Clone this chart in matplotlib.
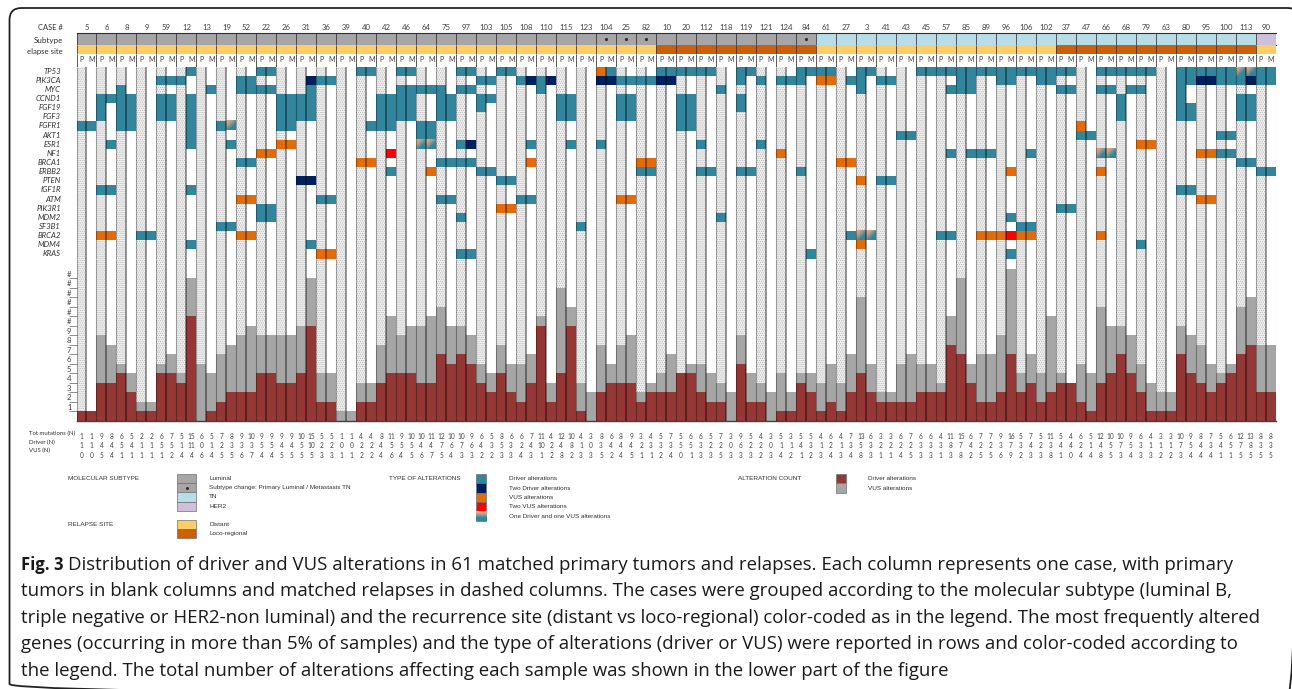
import matplotlib
matplotlib.use('Agg')
import matplotlib.pyplot as plt
from matplotlib.colors import LinearSegmentedColormap
from matplotlib.patches import FancyBboxPatch, Rectangle
import numpy as np

W, H = 1292, 689

# Casos, na ordem da figura (cada caso tem duas colunas: P e M)
cases = [5, 6, 8, 9, 59, 12, 13, 19, 52, 22, 26, 31, 36, 39, 40, 42, 46, 64, 75, 97,
         103, 105, 108, 110, 115, 123, 104, 25, 82, 10, 20, 112, 118, 119, 121, 124, 84,
         61, 27, 3, 41, 43, 45, 57, 85, 89, 96, 106, 102, 37, 47, 66, 68, 79, 63, 80, 95,
         100, 113, 90]
subtype = ['Luminal'] * 37 + ['TN'] * 22 + ['HER2']
subtype_change = [104, 25, 82, 84]
site = ['Distant'] * 29 + ['Loco'] * 8 + ['Distant'] * 12 + ['Loco'] * 10 + ['Distant']

genes = ['TP53', 'PIK3CA', 'MYC', 'CCND1', 'FGF19', 'FGF3', 'FGFR1', 'AKT1', 'ESR1', 'NF1',
         'BRCA1', 'ERBB2', 'PTEN', 'IGF1R', 'ATM', 'PIK3R1', 'MDM2', 'SF3B1', 'BRCA2', 'MDM4',
         'KRAS']

# Colunas com cada tipo de alteração, por gene
driver = {
    'TP53': [11, 18, 19, 28, 29, 32, 33, 38, 39, 42, 43, 53, 58, 59, 60, 61, 62, 63, 66, 67,
             72, 73, 74, 75, 78, 79, 84, 85, 86, 87, 88, 89, 90, 91, 92, 93, 94, 95, 96, 97,
             98, 99, 102, 103, 104, 105, 106, 107, 110, 111, 112, 113, 114, 115, 118, 119],
    'PIK3CA': [8, 9, 10, 16, 17, 24, 25, 40, 41, 44, 46, 54, 55, 56, 57, 66, 68, 70, 71, 72,
               77, 78, 80, 81, 88, 89, 92, 93, 96, 97, 110, 111, 114, 115, 116, 118, 119],
    'MYC': [4, 13, 16, 17, 18, 19, 23, 32, 33, 34, 35, 36, 38, 39, 46, 64, 78, 87, 88, 89,
            98, 99, 102, 103, 105, 106, 110],
    'CCND1': [2, 3, 4, 5, 8, 9, 11, 20, 21, 22, 23, 30, 31, 32, 33, 36, 37, 40, 41, 48, 49,
              54, 55, 60, 61, 66, 104, 110, 116, 117],
    'FGF19': [2, 4, 5, 8, 9, 11, 20, 21, 22, 23, 30, 31, 32, 33, 36, 37, 40, 48, 49, 54, 55,
              60, 61, 66, 104, 110, 111, 116, 117],
    'FGF3': [2, 4, 5, 8, 9, 11, 20, 21, 22, 23, 30, 31, 32, 33, 36, 37, 48, 49, 54, 55, 60,
             61, 104, 110, 111, 116, 117],
    'FGFR1': [0, 1, 4, 5, 11, 14, 20, 21, 29, 30, 31, 34, 35, 60, 61],
    'AKT1': [11, 34, 35, 82, 83, 100, 101, 114, 115],
    'ESR1': [3, 11, 15, 38, 45, 49, 52, 62, 68],
    'NF1': [87, 89, 90, 91, 95, 114, 115],
    'BRCA1': [16, 17, 36, 37, 38, 39, 116, 117],
    'ERBB2': [31, 40, 41, 56, 57, 62, 63, 66, 67, 72, 118, 119],
    'PTEN': [42, 43, 80, 81],
    'IGF1R': [2, 3, 11, 110, 111],
    'ATM': [24, 25, 36, 37, 44, 45],
    'PIK3R1': [18, 19, 98, 99],
    'MDM2': [18, 19, 38, 64, 93],
    'SF3B1': [14, 15, 50, 94, 95],
    'BRCA2': [6, 7, 77, 86, 87],
    'MDM4': [11, 23, 106],
    'KRAS': [38, 39, 73, 93],
}
two_driver = {'PIK3CA': [23, 45, 47, 52, 53, 58, 59, 112, 113, 117], 'ESR1': [39], 'PTEN': [22, 23]}
vus = {
    'TP53': [52],
    'PIK3CA': [74, 75],
    'FGFR1': [100],
    'ESR1': [20, 21, 106, 107],
    'NF1': [18, 19, 70, 112, 113],
    'BRCA1': [28, 29, 45, 56, 57, 76, 77],
    'ERBB2': [35, 93, 102],
    'PTEN': [78],
    'ATM': [16, 17, 54, 55, 112, 113],
    'PIK3R1': [42, 43],
    'BRCA2': [2, 3, 16, 17, 90, 91, 92, 94, 95, 102],
    'MDM4': [78],
    'KRAS': [24, 25],
}
two_vus = {'NF1': [31], 'BRCA2': [93]}
mixed = {'TP53': [116, 117], 'FGFR1': [15], 'ESR1': [34, 35], 'NF1': [102, 103], 'BRCA2': [78, 79]}

# Altura das barras, coluna a coluna
bar_driver = [1, 1, 4, 4, 5, 3, 1, 1, 5, 5, 4, 11, 0, 1, 2, 3, 3, 3, 5, 5, 4, 4, 5, 10, 2, 2, 0, 0,
              2, 2, 4, 5, 5, 5, 4, 4, 7, 6, 7, 6, 4, 3, 5, 3, 2, 4, 10, 2, 5, 10, 1, 0, 3, 4, 4, 4,
              2, 3, 3, 3, 5, 5, 3, 2, 2, 0, 6, 2, 2, 0, 1, 1, 4, 3, 1, 2, 1, 3, 5, 3, 2, 2, 2, 2, 3,
              3, 3, 8, 7, 4, 2, 2, 3, 7, 3, 4, 2, 3, 4, 4, 2, 1, 4, 5, 7, 5, 3, 1, 1, 1, 7, 5, 4, 3,
              4, 5, 7, 8, 3, 3]
bar_total = [1, 1, 9, 8, 6, 5, 2, 2, 6, 7, 5, 15, 6, 5, 7, 8, 9, 10, 9, 9, 9, 9, 10, 15, 5, 5, 1, 1,
             4, 4, 8, 11, 9, 10, 10, 11, 12, 10, 10, 9, 6, 5, 8, 6, 6, 7, 11, 4, 14, 12, 4, 3, 8, 6,
             8, 9, 3, 4, 5, 7, 5, 6, 6, 5, 4, 3, 9, 5, 4, 3, 5, 3, 5, 5, 4, 6, 4, 7, 13, 6, 3, 3, 6,
             7, 6, 6, 4, 11, 15, 6, 7, 7, 9, 16, 5, 7, 5, 11, 5, 4, 6, 5, 12, 10, 10, 9, 6, 4, 3, 3,
             10, 9, 8, 6, 5, 6, 12, 13, 8, 8]

# Números impressos por baixo das barras
tot_labels = [1, 1, 9, 8, 6, 5, 2, 2, 6, 7, 5, 15, 6, 5, 7, 8, 9, 10, 9, 9, 9, 9, 10, 15, 5, 5, 1, 1,
              4, 4, 8, 11, 9, 10, 10, 11, 12, 10, 10, 9, 6, 5, 8, 6, 6, 7, 11, 4, 12, 10, 4, 3, 8, 6,
              8, 9, 3, 4, 5, 7, 5, 6, 6, 5, 7, 3, 9, 5, 4, 3, 5, 3, 5, 5, 4, 6, 4, 7, 13, 6, 3, 3, 6,
              7, 6, 6, 4, 11, 15, 6, 7, 7, 9, 16, 5, 7, 5, 11, 5, 4, 6, 5, 12, 10, 10, 9, 6, 4, 3, 3,
              10, 9, 8, 7, 5, 6, 12, 13, 8, 8]
driver_labels = [1, 1, 4, 4, 5, 4, 1, 1, 5, 5, 1, 11, 0, 1, 2, 3, 3, 3, 5, 5, 4, 4, 5, 10, 2, 2, 0, 0,
                 2, 2, 4, 5, 5, 5, 4, 4, 7, 6, 7, 6, 4, 3, 5, 3, 2, 4, 10, 2, 4, 8, 1, 0, 3, 4, 4, 4,
                 2, 3, 3, 3, 5, 5, 3, 2, 2, 0, 6, 2, 2, 0, 1, 1, 4, 3, 1, 2, 1, 3, 5, 3, 2, 2, 2, 2, 3,
                 3, 3, 8, 7, 4, 2, 2, 3, 7, 3, 4, 2, 3, 4, 4, 2, 1, 4, 5, 7, 5, 3, 1, 1, 1, 7, 5, 4, 3,
                 4, 5, 7, 8, 3, 3]
vus_labels = [0, 0, 5, 4, 1, 1, 1, 1, 1, 2, 4, 4, 6, 4, 5, 5, 6, 7, 4, 4, 5, 5, 5, 5, 3, 3, 1, 1,
              2, 2, 4, 6, 4, 5, 6, 7, 5, 4, 3, 3, 2, 2, 3, 3, 4, 3, 1, 2, 8, 2, 3, 3, 5, 2, 4, 5,
              1, 1, 2, 4, 0, 1, 3, 3, 5, 3, 3, 3, 2, 3, 4, 2, 1, 2, 3, 4, 3, 4, 8, 3, 1, 1, 4, 5, 3,
              3, 1, 3, 8, 2, 5, 5, 6, 9, 2, 3, 3, 8, 1, 0, 4, 4, 8, 5, 3, 4, 3, 3, 2, 2, 3, 4, 4, 4,
              1, 1, 5, 5, 5, 5]

caption_lines = [
    'Distribution of driver and VUS alterations in 61 matched primary tumors and relapses. Each column represents one case, with primary',
    'tumors in blank columns and matched relapses in dashed columns. The cases were grouped according to the molecular subtype (luminal B,',
    'triple negative or HER2-non luminal) and the recurrence site (distant vs loco-regional) color-coded as in the legend. The most frequently altered',
    'genes (occurring in more than 5% of samples) and the type of alterations (driver or VUS) were reported in rows and color-coded according to',
    'the legend. The total number of alterations affecting each sample was shown in the lower part of the figure',
]

# Cores
teal = '#31859C'
navy = '#002060'
orange = '#E36C09'
red = '#FF0000'
dark_red = '#953735'
grey = '#A6A6A6'
subtype_colors = {'Luminal': grey, 'TN': '#B7DEE8', 'HER2': '#CCC0DA'}
site_colors = {'Distant': '#FFCC66', 'Loco': '#CC6008'}
mixed_cmap = LinearSegmentedColormap.from_list('mixed', ['#F0B080', '#A8A090', teal, teal])

plt.rcParams['font.family'] = ['Lato', 'DejaVu Sans']
plt.rcParams['hatch.linewidth'] = 0.5

fig = plt.figure(figsize=(W / 100, H / 100), dpi=100, facecolor='white')


def px_axes(left, top, right, bottom):
    ax = fig.add_axes([left / W, 1 - bottom / H, (right - left) / W, (bottom - top) / H])
    ax.set_xlim(0, 120)
    ax.set_xticks([])
    ax.set_yticks([])
    for s in ax.spines.values():
        s.set_visible(False)
    return ax


# Eixo de fundo em píxeis para moldura, textos e legenda
bg = fig.add_axes([0, 0, 1, 1], zorder=-1)
bg.set_xlim(0, W)
bg.set_ylim(H, 0)
bg.axis('off')
bg.add_patch(FancyBboxPatch((9.5, 8), 1290, 688, boxstyle='round,pad=0,rounding_size=12',
                            fc='none', ec='#222222', lw=1.3))

LEFT, RIGHT = 76.5, 1275.5
ax_sub = px_axes(LEFT, 33, RIGHT, 44.5)
ax_site = px_axes(LEFT, 44.5, RIGHT, 53.5)
ax_pm = px_axes(LEFT, 53.5, RIGHT, 66.5)
ax_gene = px_axes(LEFT, 66.5, RIGHT, 258.5)
ax_bar = px_axes(LEFT, 258.5, RIGHT, 420.7)
ax_num = px_axes(LEFT, 430, RIGHT, 458)

case_pos = np.arange(len(cases)) * 2
ax_sub.bar(case_pos, 1, width=2, align='edge', color=[subtype_colors[s] for s in subtype])
ax_site.bar(case_pos, 1, width=2, align='edge', color=[site_colors[s] for s in site])
ax_sub.set_ylim(0, 1)
ax_site.set_ylim(0, 1)

for pos, case in zip(case_pos, cases):
    bg.text(LEFT + (pos + 1) * 10, 28, str(case), ha='center', va='center', fontsize=5.6, color='#404040')
    ax_pm.text(pos + 0.5, 0.5, 'P', ha='center', va='center', fontsize=5, color='#404040')
    ax_pm.text(pos + 1.5, 0.5, 'M', ha='center', va='center', fontsize=5, color='#404040')
    if case in subtype_change:
        ax_sub.plot(pos + 1, 0.5, marker='o', ms=1.3, color='#303030')
ax_pm.set_ylim(0, 1)

# Colunas P pontilhadas, atrás de tudo
for ax, top in [(ax_gene, len(genes)), (ax_bar, 17.1)]:
    ax.bar(case_pos, top, width=1, align='edge', color='#F0F0F0', edgecolor='#B4B4B4', hatch='........', lw=0, zorder=0)

# Células dos genes
ax_gene.set_ylim(len(genes), 0)
for calls, color in [(driver, teal), (two_driver, navy), (vus, orange), (two_vus, red)]:
    for gene, cols in calls.items():
        row = genes.index(gene)
        ax_gene.bar(cols, 1, bottom=row, width=1, align='edge', color=color, zorder=2)
ramp = np.add.outer(np.linspace(0, 1, 24), np.linspace(0, 1, 24)) / 2
for gene, cols in mixed.items():
    row = genes.index(gene)
    for c in cols:
        ax_gene.imshow(ramp, cmap=mixed_cmap, extent=(c, c + 1, row + 1, row), aspect='auto', zorder=2)
ax_gene.set_xlim(0, 120)
ax_gene.set_ylim(len(genes), 0)

# Barras de contagem
columns = np.arange(120)
bar_driver = np.array(bar_driver)
bar_total = np.array(bar_total)
ax_bar.bar(columns, bar_driver, width=1, align='edge', color=dark_red, zorder=2)
ax_bar.bar(columns, bar_total - bar_driver, bottom=bar_driver, width=1, align='edge', color=grey, zorder=2)
ax_bar.set_ylim(0, 17.08)
ax_bar.set_yticks(range(1, 16))
ax_bar.set_yticklabels([])
ax_bar.tick_params(axis='y', length=5.5, width=0.5, color='#606060')
ax_bar.spines['bottom'].set_visible(True)
ax_bar.spines['bottom'].set_color('#404040')
ax_bar.spines['bottom'].set_linewidth(1)
for n in range(1, 16):
    ax_bar.text(-0.5, n + 0.4, str(n) if n < 10 else '#', ha='right', va='center', fontsize=5.6, color='#404040')

# Linhas verticais
for ax in (ax_gene, ax_bar):
    ax.vlines(case_pos + 1, 0, 1, transform=ax.get_xaxis_transform(), color='black', alpha=0.5, lw=1.1, zorder=3)
    ax.vlines(np.append(case_pos, 120), 0, 1, transform=ax.get_xaxis_transform(), color='black', alpha=0.32, lw=0.8, zorder=3)
for ax in (ax_sub, ax_site, ax_pm):
    ax.vlines(np.append(case_pos, 120), 0, 1, transform=ax.get_xaxis_transform(), color='#303030', alpha=0.8, lw=0.7, zorder=3)
ax_sub.spines['top'].set_visible(True)
ax_sub.spines['top'].set_color('#303030')
ax_sub.spines['top'].set_linewidth(0.8)
ax_sub.spines['bottom'].set_visible(True)
ax_sub.spines['bottom'].set_color('#303030')
ax_sub.spines['bottom'].set_linewidth(0.7)

# Rótulos da esquerda
bg.text(63, 28, 'CASE #', ha='right', va='center', fontsize=5.4, color='#303030')
bg.text(63, 40.5, 'Subtype', ha='right', va='center', fontsize=5.8, color='#303030')
bg.text(63, 51.5, 'elapse site', ha='right', va='center', fontsize=5.6, color='#303030')
for i, gene in enumerate(genes):
    ax_gene.text(-1.55, i + 0.5, gene, ha='right', va='center', fontsize=5.6, style='italic', color='#303030')

# Contagens por baixo
ax_num.set_ylim(3, 0)
for row, (name, values, y) in enumerate([('Tot mutations (N)', tot_labels, 434.5),
                                         ('Driver (N)', driver_labels, 443),
                                         ('VUS (N)', vus_labels, 451.5)]):
    bg.text(29, y - 0.7, name, ha='left', va='center', fontsize=4.3, color='#303030')
    for c, v in enumerate(values):
        ax_num.text(c + 0.5, row + 0.7, str(v), ha='center', va='center', fontsize=4.7, color='#404040')


# Legenda
def legend_block(x0, x1, y0, step, colors, labels, tx):
    for i, (color, label) in enumerate(zip(colors, labels)):
        bg.add_patch(Rectangle((x0, y0 + i * step), x1 - x0, step, fc=color, ec='#707070', lw=0.5))
        bg.text(tx, y0 + (i + 0.5) * step, label, ha='left', va='center', fontsize=4.6,
                family=['Liberation Sans'], color='#303030')


head = dict(ha='left', va='center', fontsize=4.6, family=['Liberation Sans'], color='#303030')
bg.text(68, 478, 'MOLECULAR SUBTYPE', **head)
bg.text(68, 524.3, 'RELAPSE SITE', **head)
bg.text(389, 478, 'TYPE OF ALTERATIONS', **head)
bg.text(738, 478, 'ALTERATION COUNT', **head)
legend_block(176.7, 196.4, 474, 9.2, [grey, grey, '#B7DEE8', '#CCC0DA'],
             ['Luminal', 'Subtype change: Primary Luminal / Metastasis TN', 'TN', 'HER2'], 209)
bg.plot(186.5, 487.8, marker='o', ms=1.2, color='#303030')
legend_block(176.7, 196.4, 520, 9.2, [site_colors['Distant'], site_colors['Loco']], ['Distant', 'Loco-regional'], 209)
legend_block(475.8, 486, 474, 9.4, [teal, navy, orange, red, teal],
             ['Driver alterations', 'Two Driver alterations', 'VUS alterations', 'Two VUS alterations',
              'One Driver and one VUS alterations'], 509)
bg.imshow(np.linspace(0, 1, 16).reshape(-1, 1), cmap=mixed_cmap, extent=(475.8, 486, 521, 511.6),
          aspect='auto', zorder=3)
bg.set_xlim(0, W)
bg.set_ylim(H, 0)
legend_block(835.5, 846, 474, 9.4, [dark_red, grey], ['Driver alterations', 'VUS alterations'], 868)

# Legenda da figura
fig3 = bg.text(21, 565, 'Fig. 3', ha='left', va='center', fontsize=12, fontweight='bold',
               family=['Open Sans'], color='#1a1a1a')
fig.canvas.draw()
x_end = bg.transData.inverted().transform(fig3.get_window_extent().get_points())[1, 0]
for i, line in enumerate(caption_lines):
    bg.text(x_end + 5 if i == 0 else 21, 565 + i * 26.4, line, ha='left', va='center', fontsize=13.4,
            family=['Open Sans'], color='#1a1a1a')

fig.savefig('out.png', dpi=100)
